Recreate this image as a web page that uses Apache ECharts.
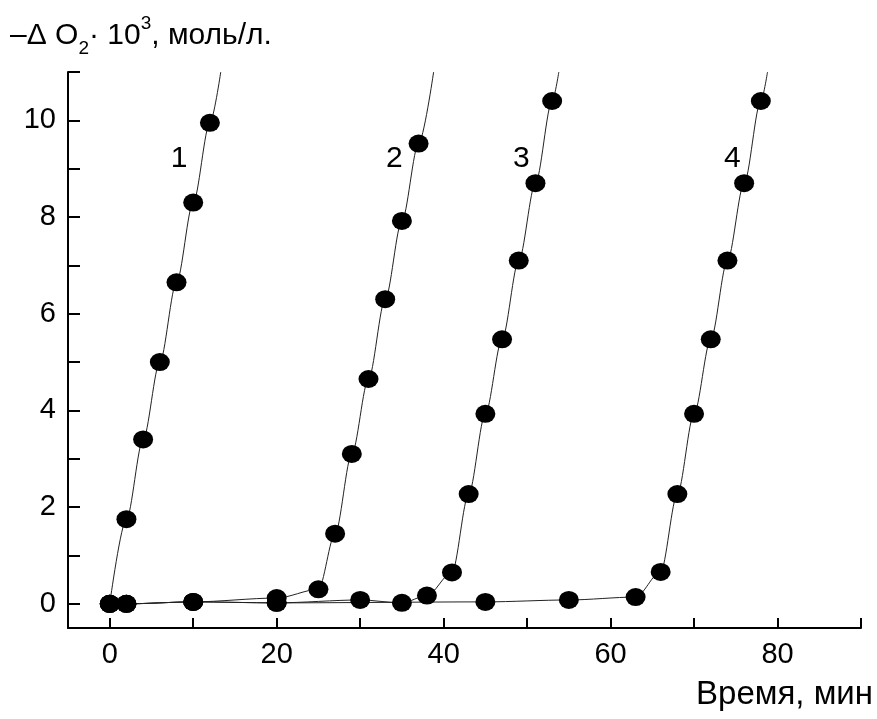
<!DOCTYPE html>
<html>
<head>
<meta charset="utf-8">
<script src="https://cdn.jsdelivr.net/npm/echarts@6/dist/echarts.min.js"></script>
<style>
  html, body { margin: 0; padding: 0; background: #fff; }
  #chart { width: 877px; height: 719px; }
</style>
</head>
<body>
<div id="chart"></div>
<script>
// points: [time, min ; -dO2 * 10^3, mol/l]
const curve1 = [[0, 0], [2, 1.75], [4, 3.4], [6, 5.0], [8, 6.65], [10, 8.3], [12, 9.95]]
const curve2 = [[0, 0], [2, 0], [10, 0.04], [20, 0.12], [25, 0.3], [27, 1.45], [29, 3.1],
  [31, 4.65], [33, 6.3], [35, 7.92], [37, 9.52]]
const curve3 = [[0, 0], [2, 0], [10, 0.04], [20, 0.02], [30, 0.08], [35, 0.02], [38, 0.17],
  [41, 0.65], [43, 2.27], [45, 3.93], [47, 5.47], [49, 7.1], [51, 8.7], [53, 10.4]]
const curve4 = [[0, 0], [2, 0], [10, 0.04], [20, 0.02], [45, 0.04], [55, 0.08], [63, 0.14],
  [66, 0.66], [68, 2.27], [70, 3.93], [72, 5.47], [74, 7.1], [76, 8.7], [78, 10.4]]
// where each drawn line leaves the top of the plot
const lineEnds = [[13.3, 11], [38.8, 11], [53.8, 11], [78.8, 11]]
const curveNames = ['1', '2', '3', '4']
const namePos = [[8.3, 9.2], [34.1, 9.2], [49.3, 9.2], [74.6, 9.2]]

const xTicks = [0, 10, 20, 30, 40, 50, 60, 70, 80, 90]
const xLabels = [0, 20, 40, 60, 80]
const yTicks = [0, 1, 2, 3, 4, 5, 6, 7, 8, 9, 10, 11]
const yLabels = [0, 2, 4, 6, 8, 10]

const font = 'Liberation Sans, Arial, sans-serif'
const curves = [curve1, curve2, curve3, curve4]

let series = []
curves.forEach(function(pts, i) {
  series.push({
    name: 'line' + curveNames[i],
    type: 'line',
    data: pts.concat([lineEnds[i]]),
    smooth: 0.3,
    smoothMonotone: 'x',
    showSymbol: false,
    silent: true,
    lineStyle: { color: '#222', width: 1 },
    z: 2
  })
  series.push({
    name: 'pts' + curveNames[i],
    type: 'scatter',
    data: pts,
    symbol: 'circle',
    symbolSize: [20, 18],
    itemStyle: { color: '#000', opacity: 1 },
    z: 3
  })
})
series.push({
  name: 'names',
  type: 'scatter',
  symbolSize: 0,
  itemStyle: { opacity: 1 },
  data: namePos.map(function(p, i) { return { name: curveNames[i], value: p } }),
  label: {
    show: true,
    position: 'inside',
    formatter: '{b}',
    color: '#000',
    fontSize: 30,
    fontFamily: font
  }
})

const axisCommon = {
  type: 'value',
  splitLine: { show: false },
  axisLine: { show: true, onZero: false, lineStyle: { color: '#000', width: 2 } },
  axisLabel: { color: '#000', fontSize: 29, fontFamily: font, margin: 12 }
}

const option = {
  backgroundColor: '#fff',
  animation: false,
  grid: { left: 68, right: 16, top: 72, bottom: 91 },
  xAxis: Object.assign({}, axisCommon, {
    min: -5,
    max: 90,
    axisTick: { inside: true, length: 10, lineStyle: { color: '#000', width: 2 }, customValues: xTicks },
    axisLabel: Object.assign({}, axisCommon.axisLabel, { customValues: xLabels })
  }),
  yAxis: Object.assign({}, axisCommon, {
    min: -0.5,
    max: 11,
    axisTick: { inside: true, length: 12, lineStyle: { color: '#000', width: 2 }, customValues: yTicks },
    axisLabel: Object.assign({}, axisCommon.axisLabel, { customValues: yLabels })
  }),
  graphic: [
    {
      type: 'text',
      left: 10,
      top: 14,
      style: {
        text: '{a|–Δ O}{sub|2}{a|· 10}{sup|3}{a|, моль/л.}',
        rich: {
          a: { fontSize: 30, fontFamily: font, fill: '#000', lineHeight: 44, verticalAlign: 'middle' },
          sub: { fontSize: 19, fontFamily: font, fill: '#000', lineHeight: 44, verticalAlign: 'bottom' },
          sup: { fontSize: 19, fontFamily: font, fill: '#000', lineHeight: 44, verticalAlign: 'top' }
        }
      }
    },
    {
      type: 'text',
      right: 4,
      top: 678,
      style: { text: 'Время, мин', fontSize: 33, fontFamily: font, fill: '#000' }
    }
  ],
  series: series
}

const myChart = echarts.init(document.getElementById('chart'))
myChart.setOption(option)
</script>
</body>
</html>
